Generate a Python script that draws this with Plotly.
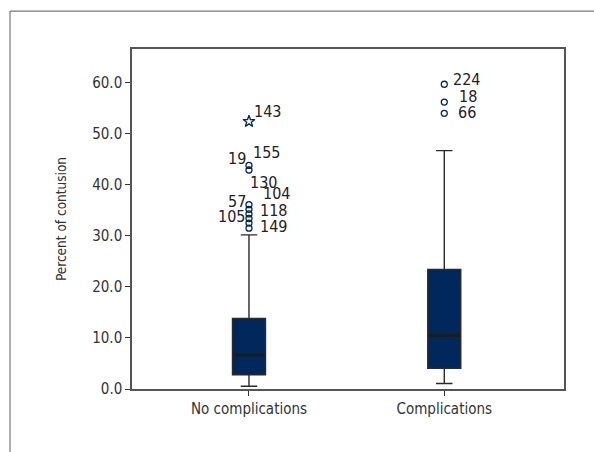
import plotly.graph_objects as go

# ---- data ----
categories = ["No complications", "Complications"]
lower_whisker = [0.55, 1.08]
q1 = [2.78, 4.07]
median = [6.69, 10.5]
q3 = [13.8, 23.4]
upper_whisker = [30.2, 46.7]

# outliers (circles)
no_comp_outliers = [43.8, 42.9, 36.1, 35.2, 34.3, 33.4, 32.5, 31.5]
no_comp_outlier_ids = ["155", "19", "130", "104", "57", "118", "105", "149"]
comp_outliers = [59.7, 56.2, 54.0]
comp_outlier_ids = ["224", "18", "66"]
# extreme (star)
no_comp_extreme = [52.4]
no_comp_extreme_ids = ["143"]

y_ticks = [0, 10, 20, 30, 40, 50, 60]

# ---- style ----
FONT = "DejaVu Sans Condensed, Liberation Sans Narrow, sans-serif"
NAVY = "#00285c"
BOX_W = 0.169
xpos = list(range(len(categories)))

fig = go.Figure()
for i, cat in enumerate(categories):
    fig.add_trace(go.Box(
        x=[xpos[i]], q1=[q1[i]], median=[median[i]], q3=[q3[i]],
        lowerfence=[lower_whisker[i]], upperfence=[upper_whisker[i]],
        width=BOX_W, whiskerwidth=0.5, boxpoints=False,
        fillcolor=NAVY, line=dict(color="#2a2a2a", width=1.4),
        showlegend=False, hoverinfo="skip",
    ))
    # thicker median line
    fig.add_trace(go.Scatter(
        x=[xpos[i] - BOX_W / 2 + 0.004, xpos[i] + BOX_W / 2 - 0.004], y=[median[i], median[i]],
        mode="lines", line=dict(color="#1c1c1c", width=3), showlegend=False, hoverinfo="skip"))

fig.add_trace(go.Scatter(
    x=[xpos[0]] * len(no_comp_outliers), y=no_comp_outliers, mode="markers",
    marker=dict(symbol="circle-open", size=6, color=NAVY, line=dict(width=1.3)),
    showlegend=False))
fig.add_trace(go.Scatter(
    x=[xpos[1]] * len(comp_outliers), y=comp_outliers, mode="markers",
    marker=dict(symbol="circle-open", size=6, color=NAVY, line=dict(width=1.3)),
    showlegend=False))
fig.add_trace(go.Scatter(
    x=[xpos[0]] * len(no_comp_extreme), y=no_comp_extreme, mode="markers",
    marker=dict(symbol="star-open", size=9, color=NAVY, line=dict(width=1.3)),
    showlegend=False))

# label placement (xanchor, xshift px, yshift px)
no_comp_label_style = [("left", 2, 13), ("right", -1, 11), ("left", -1, 22), ("left", 12, 16),
                       ("right", -1, 12), ("left", 9, 8), ("right", -2, 7), ("left", 9, 2)]
comp_label_style = [("left", 7, 5), ("left", 13, 6), ("left", 12, 1)]
extreme_label_style = [("left", 3, 10)]

def add_labels(xp, vals, ids, styles):
    for v, t, (anc, xs, ys) in zip(vals, ids, styles):
        fig.add_annotation(x=xp, y=v, text=t, showarrow=False, xanchor=anc, yanchor="middle",
                           xshift=xs, yshift=ys, font=dict(family=FONT, size=16, color="#222222"))

add_labels(xpos[0], no_comp_outliers, no_comp_outlier_ids, no_comp_label_style)
add_labels(xpos[1], comp_outliers, comp_outlier_ids, comp_label_style)
add_labels(xpos[0], no_comp_extreme, no_comp_extreme_ids, extreme_label_style)

# outer frame lines
fig.add_shape(type="line", xref="paper", yref="paper", x0=-0.2824, x1=1.08, y0=1.1116, y1=1.1116,
              line=dict(color="#777777", width=1.2))
fig.add_shape(type="line", xref="paper", yref="paper", x0=-0.2824, x1=-0.2824, y0=1.1116, y1=-0.2,
              line=dict(color="#777777", width=1.2))

fig.update_layout(
    width=594, height=452,
    margin=dict(l=132, r=30, t=49, b=62.5),
    paper_bgcolor="white", plot_bgcolor="white",
    font=dict(family=FONT, size=15, color="#333333"),
    showlegend=False,
)
fig.update_xaxes(
    range=[-0.599, 1.613], tickvals=xpos, ticktext=categories,
    showline=True, linecolor="#555555", linewidth=1.5, mirror=True,
    ticks="outside", ticklen=5, tickcolor="#333333", showgrid=False, zeroline=False,
    tickfont=dict(size=15, color="#333333"),
)
fig.update_yaxes(
    range=[0, 66.6], tickvals=y_ticks, ticktext=[f"{v:.1f}" for v in y_ticks],
    showline=True, linecolor="#555555", linewidth=1.5, mirror=True,
    ticks="outside", ticklen=5, tickcolor="#333333", showgrid=False, zeroline=False,
    tickfont=dict(size=15, color="#333333"),
    title=dict(text="Percent of contusion", font=dict(size=13.5, color="#333333"), standoff=22),
)

fig.write_html("out.html", config={"displayModeBar": False},
               post_script="document.body.style.margin='0';")
